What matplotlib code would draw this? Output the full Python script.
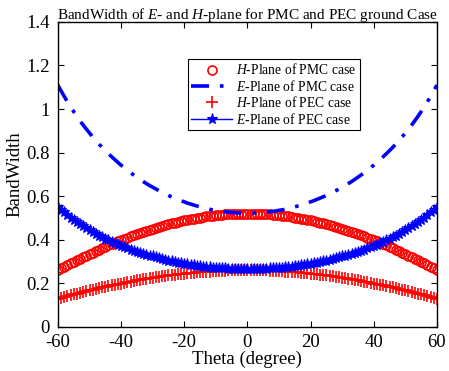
import numpy as np
import matplotlib
matplotlib.use("Agg")
import matplotlib.pyplot as plt

plt.rcParams['font.family'] = ['Liberation Serif', 'DejaVu Serif']
plt.rcParams['mathtext.fontset'] = 'custom'
plt.rcParams['mathtext.rm'] = 'Liberation Serif'
plt.rcParams['mathtext.it'] = 'Liberation Serif:italic'
plt.rcParams['axes.unicode_minus'] = False

theta = list(range(-60, 61))

h_pmc = [0.260,0.268,0.276,0.283,0.291,0.298,0.306,0.313,0.320,0.327,0.334,0.341,0.348,0.355,0.361,0.368,0.374,0.380,0.386,0.392,
         0.398,0.404,0.410,0.415,0.421,0.426,0.431,0.436,0.441,0.446,0.450,0.455,0.459,0.463,0.467,0.471,0.475,0.479,0.482,0.485,
         0.489,0.492,0.495,0.497,0.500,0.502,0.505,0.507,0.509,0.510,0.512,0.514,0.515,0.516,0.517,0.518,0.519,0.519,0.520,0.520,
         0.520,
         0.520,0.520,0.519,0.519,0.518,0.517,0.516,0.515,0.514,0.512,0.510,0.509,0.507,0.505,0.502,0.500,0.497,0.495,0.492,0.489,
         0.485,0.482,0.479,0.475,0.471,0.467,0.463,0.459,0.455,0.450,0.446,0.441,0.436,0.431,0.426,0.421,0.415,0.410,0.404,0.398,
         0.392,0.386,0.380,0.374,0.368,0.361,0.355,0.348,0.341,0.334,0.327,0.320,0.313,0.306,0.298,0.291,0.283,0.276,0.268,0.260]

e_pmc = [1.110,1.083,1.058,1.033,1.010,0.988,0.966,0.946,0.926,0.908,0.890,0.872,0.856,0.839,0.824,0.809,0.795,0.781,0.768,0.755,
         0.742,0.731,0.719,0.708,0.697,0.687,0.677,0.667,0.658,0.649,0.641,0.633,0.625,0.618,0.610,0.603,0.597,0.591,0.585,0.579,
         0.574,0.568,0.564,0.559,0.555,0.551,0.547,0.544,0.540,0.537,0.535,0.532,0.530,0.528,0.527,0.525,0.524,0.523,0.523,0.522,
         0.522,
         0.522,0.523,0.523,0.524,0.525,0.527,0.528,0.530,0.532,0.535,0.537,0.540,0.544,0.547,0.551,0.555,0.559,0.564,0.568,0.574,
         0.579,0.585,0.591,0.597,0.603,0.610,0.618,0.625,0.633,0.641,0.649,0.658,0.667,0.677,0.687,0.697,0.708,0.719,0.731,0.742,
         0.755,0.768,0.781,0.795,0.809,0.824,0.839,0.856,0.872,0.890,0.908,0.926,0.946,0.966,0.988,1.010,1.033,1.058,1.083,1.110]

h_pec = [0.130,0.134,0.138,0.142,0.145,0.149,0.153,0.156,0.160,0.164,0.167,0.171,0.174,0.177,0.181,0.184,0.187,0.190,0.193,0.196,
         0.199,0.202,0.205,0.208,0.210,0.213,0.216,0.218,0.220,0.223,0.225,0.227,0.230,0.232,0.234,0.236,0.238,0.239,0.241,0.243,
         0.244,0.246,0.247,0.249,0.250,0.251,0.252,0.253,0.254,0.255,0.256,0.257,0.257,0.258,0.259,0.259,0.259,0.260,0.260,0.260,
         0.260,
         0.260,0.260,0.260,0.259,0.259,0.259,0.258,0.257,0.257,0.256,0.255,0.254,0.253,0.252,0.251,0.250,0.249,0.247,0.246,0.244,
         0.243,0.241,0.239,0.238,0.236,0.234,0.232,0.230,0.227,0.225,0.223,0.220,0.218,0.216,0.213,0.210,0.208,0.205,0.202,0.199,
         0.196,0.193,0.190,0.187,0.184,0.181,0.177,0.174,0.171,0.167,0.164,0.160,0.156,0.153,0.149,0.145,0.142,0.138,0.134,0.130]

e_pec = [0.550,0.537,0.525,0.513,0.501,0.491,0.480,0.470,0.461,0.452,0.443,0.435,0.427,0.419,0.411,0.404,0.397,0.391,0.384,0.378,
         0.372,0.366,0.360,0.355,0.350,0.345,0.340,0.336,0.331,0.327,0.323,0.319,0.315,0.311,0.308,0.304,0.301,0.298,0.295,0.293,
         0.290,0.288,0.285,0.283,0.281,0.279,0.277,0.275,0.274,0.272,0.271,0.270,0.269,0.268,0.267,0.267,0.266,0.266,0.265,0.265,
         0.265,
         0.265,0.265,0.266,0.266,0.267,0.267,0.268,0.269,0.270,0.271,0.272,0.274,0.275,0.277,0.279,0.281,0.283,0.285,0.288,0.290,
         0.293,0.295,0.298,0.301,0.304,0.308,0.311,0.315,0.319,0.323,0.327,0.331,0.336,0.340,0.345,0.350,0.355,0.360,0.366,0.372,
         0.378,0.384,0.391,0.397,0.404,0.411,0.419,0.427,0.435,0.443,0.452,0.461,0.470,0.480,0.491,0.501,0.513,0.525,0.537,0.550]

labels = [r'$H$-Plane of PMC case', r'$E$-Plane of PMC case',
          r'$H$-Plane of PEC case', r'$E$-Plane of PEC case']
xticks = [-60, -40, -20, 0, 20, 40, 60]
yticks = [0, 0.2, 0.4, 0.6, 0.8, 1, 1.2, 1.4]
yticklabels = ['0', '0.2', '0.4', '0.6', '0.8', '1', '1.2', '1.4']

fig = plt.figure(figsize=(4.49, 3.71), dpi=100)
ax = fig.add_axes([0.129, 0.119, 0.844, 0.822])

ax.plot(theta, h_pmc, linestyle='none', marker='o', markersize=6.5,
        markerfacecolor='none', markeredgecolor='red', markeredgewidth=1.2, label=labels[0])
ax.plot(theta, e_pmc, linestyle=(0, (5, 3, 1, 3)), color='blue', linewidth=2.6, label=labels[1])
ax.plot(theta, h_pec, linestyle='none', marker='+', markersize=8, color='red',
        markeredgewidth=1.2, label=labels[2])
ax.plot(theta, e_pec, linestyle='-', marker='*', markersize=8, color='blue',
        linewidth=1.0, markeredgewidth=0.8, label=labels[3])

ax.set_xlim(-60, 60)
ax.set_ylim(0, 1.4)
ax.set_xticks(xticks)
ax.set_yticks(yticks)
ax.set_yticklabels(yticklabels)
ax.tick_params(direction='in', top=True, right=True, labelsize=13.5, length=4, width=0.8)
ax.tick_params(axis='x', pad=5)
ax.tick_params(axis='y', pad=6)
for s in ax.spines.values():
    s.set_linewidth(1.0)

ax.set_xlabel('Theta (degree)', fontsize=13.5, labelpad=0)
ax.set_ylabel('BandWidth', fontsize=13.5, labelpad=2)
ax.set_title(r'BandWidth of $E$- and $H$-plane for PMC and PEC ground Case', fontsize=11, pad=2)

leg = ax.legend(loc='upper left', bbox_to_anchor=(0.343, 0.878), fontsize=9.8,
                frameon=True, fancybox=False, edgecolor='black', framealpha=1,
                handlelength=3.0, borderpad=0.25, labelspacing=0.1, handletextpad=0.3,
                borderaxespad=0)
leg.get_frame().set_linewidth(0.8)

fig.savefig('out.png', dpi=100)
